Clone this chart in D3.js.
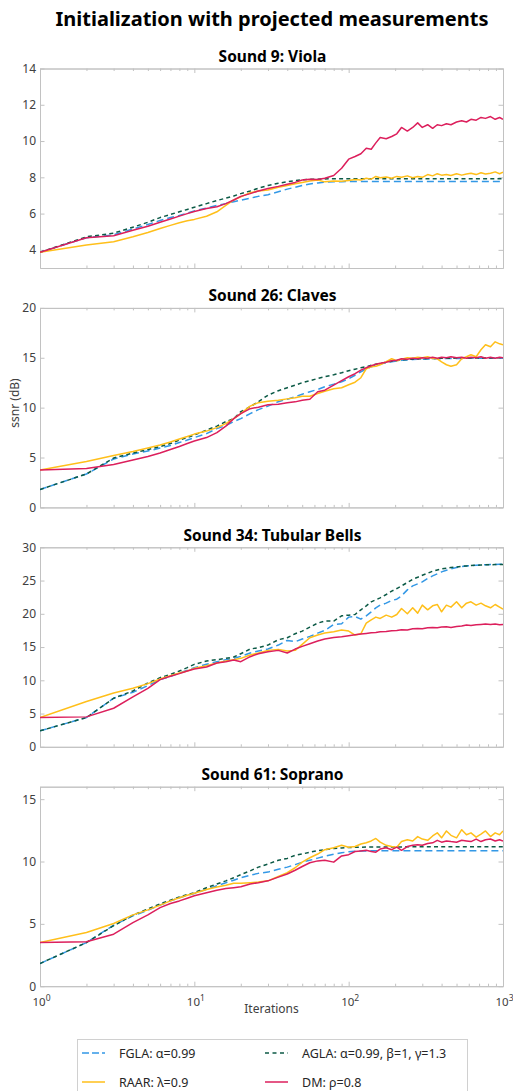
<!DOCTYPE html>
<html><head><meta charset="utf-8">
<script src="https://cdn.jsdelivr.net/npm/d3@7"></script>
<style>
body{margin:0;background:#fff;}
text{font-family:"Noto Sans","Open Sans",sans-serif;}
</style></head>
<body>
<script>
// ---------- DATA ----------
const iterations = [1,2,3,4,5,6,7,8,9,10,12,14,16,18,20,23,26,30,35,40,45,50,56,63,70,80,90,100,110,120,130,140,150,160,175,190,205,220,240,260,280,300,325,350,375,400,430,460,500,540,580,620,670,720,770,830,890,950,1000];

const seriesNames = ["FGLA: \u03b1=0.99","AGLA: \u03b1=0.99, \u03b2=1, \u03b3=1.3","RAAR: \u03bb=0.9","DM: \u03c1=0.8"];
const panelTitles = ["Sound 9: Viola","Sound 26: Claves","Sound 34: Tubular Bells","Sound 61: Soprano"];
const yLimits = [[3,14],[0,20],[0,30],[0,16]];
const yTicks = [[4,6,8,10,12,14],[0,5,10,15,20],[0,5,10,15,20,25,30],[0,5,10,15]];
const xTicks = [1,10,100,1000];
const xTickExponents = ["0","1","2","3"];
const xLabel = "Iterations";
const yLabel = "ssnr (dB)";
const mainTitle = "Initialization with projected measurements";

// Viola
const violaFGLA = [3.87,4.67,4.83,5.15,5.4,5.62,5.78,5.9,6.03,6.15,
 6.3,6.45,6.55,6.65,6.74,6.85,6.95,7.04,7.2,7.35,
 7.45,7.55,7.63,7.69,7.73,7.75,7.76,7.77,7.77,7.77,
 7.77,7.77,7.77,7.77,7.77,7.77,7.77,7.77,7.77,7.77,
 7.77,7.77,7.77,7.77,7.77,7.77,7.77,7.77,7.77,7.77,
 7.77,7.77,7.77,7.77,7.77,7.77,7.77,7.77,7.77];
const violaAGLA = [3.87,4.72,4.92,5.25,5.52,5.78,5.95,6.1,6.23,6.35,
 6.55,6.72,6.85,6.97,7.1,7.25,7.4,7.55,7.67,7.76,
 7.82,7.86,7.89,7.9,7.91,7.92,7.92,7.92,7.92,7.92,
 7.92,7.92,7.92,7.92,7.92,7.92,7.92,7.92,7.92,7.92,
 7.92,7.92,7.92,7.92,7.92,7.92,7.92,7.92,7.92,7.92,
 7.92,7.92,7.92,7.92,7.92,7.92,7.92,7.92,7.92];
const violaRAAR = [3.87,4.27,4.45,4.72,4.96,5.18,5.35,5.5,5.6,5.68,
 5.85,6.1,6.45,6.75,6.92,7.15,7.25,7.3,7.45,7.55,
 7.65,7.72,7.8,7.85,7.75,7.8,7.78,7.82,7.88,7.85,
 7.95,7.9,8.05,7.98,8.02,7.95,8.05,8.0,8.08,7.98,
 8.05,8.0,8.15,8.08,8.2,8.12,8.15,8.1,8.2,8.12,
 8.18,8.22,8.15,8.25,8.18,8.22,8.3,8.2,8.28];
const violaDM = [3.87,4.67,4.78,5.08,5.3,5.52,5.7,5.86,6.0,6.12,
 6.28,6.38,6.55,6.75,6.95,7.1,7.25,7.38,7.5,7.62,
 7.72,7.85,7.9,7.88,7.95,8.1,8.5,9.0,9.15,9.3,
 9.6,9.55,9.9,10.19,10.13,10.25,10.4,10.75,10.55,10.75,
 11.0,10.75,10.9,10.7,10.9,10.85,10.95,10.9,11.05,11.12,
 11.05,11.2,11.15,11.3,11.25,11.35,11.2,11.3,11.2];

// Claves
const clavesFGLA = [1.8,3.35,4.85,5.35,5.65,5.95,6.2,6.5,6.75,7.0,
 7.4,7.9,8.2,8.6,8.9,9.4,9.8,10.15,10.6,10.85,
 11.1,11.35,11.6,11.82,12.1,12.35,12.6,12.9,13.25,13.6,
 13.86,14.1,14.25,14.38,14.5,14.6,14.68,14.74,14.78,14.82,
 14.84,14.86,14.88,14.89,14.9,14.91,14.92,14.92,14.93,14.93,
 14.94,14.94,14.94,14.95,14.95,14.95,14.95,14.95,14.95];
const clavesAGLA = [1.8,3.35,4.95,5.45,5.8,6.1,6.4,6.75,7.0,7.25,
 7.75,8.15,8.6,8.9,9.6,10.1,10.6,11.25,11.7,12.0,
 12.25,12.5,12.7,12.92,13.1,13.3,13.5,13.7,13.85,14.0,
 14.1,14.25,14.36,14.45,14.55,14.65,14.72,14.78,14.82,14.86,
 14.88,14.9,14.92,14.93,14.94,14.95,14.96,14.96,14.97,14.97,
 14.98,14.98,14.98,14.99,14.99,14.99,15.0,15.0,15.0];
const clavesRAAR = [3.75,4.6,5.2,5.6,5.95,6.25,6.55,6.85,7.1,7.35,
 7.65,8.0,8.4,8.9,9.4,10.15,10.5,10.65,10.75,10.88,
 11.0,11.15,11.15,11.42,11.65,11.9,12.0,12.3,12.55,13.0,
 13.9,14.1,14.15,14.3,14.6,14.9,14.7,14.85,15.0,14.95,
 15.05,15.0,15.1,14.95,14.9,14.6,14.3,14.15,14.3,14.9,
 15.1,15.3,15.1,15.8,16.3,16.1,16.6,16.4,16.3];
const clavesDM = [3.75,3.9,4.3,4.75,5.1,5.45,5.8,6.1,6.4,6.65,
 7.0,7.5,8.15,8.9,9.4,9.9,10.05,10.3,10.35,10.48,
 10.58,10.75,10.85,11.6,11.75,12.25,12.7,13.1,13.4,13.76,
 14.0,14.2,14.35,14.45,14.55,14.7,14.75,14.9,14.85,14.95,
 14.9,15.0,14.95,15.05,14.95,15.05,15.0,15.1,15.0,15.05,
 14.95,15.05,15.0,15.1,14.95,15.05,14.95,15.05,15.0];

// Tubular Bells
const tubularFGLA = [2.4,4.4,7.3,8.2,9.2,10.1,10.6,11.1,11.5,11.9,
 12.4,12.8,13.1,13.3,13.6,14.1,14.4,14.7,15.3,16.0,
 15.8,16.2,16.6,17.1,17.5,18.4,18.5,19.5,19.6,19.2,
 19.7,20.3,20.9,21.3,21.6,22.0,22.2,22.7,23.6,24.2,
 24.5,24.8,25.3,25.7,26.0,26.3,26.55,26.75,26.95,27.1,
 27.2,27.25,27.3,27.35,27.38,27.4,27.42,27.44,27.45];
const tubularAGLA = [2.4,4.4,7.3,8.4,9.6,10.4,10.9,11.4,11.9,12.4,
 12.9,13.1,13.3,13.5,14.0,14.7,14.9,15.3,16.1,16.4,
 17.0,17.4,18.0,18.6,18.9,18.9,19.7,19.8,19.9,20.6,
 21.2,21.8,22.1,22.4,22.9,23.4,23.8,24.2,24.7,25.2,
 25.5,25.8,26.1,26.4,26.6,26.75,26.85,26.95,27.05,27.15,
 27.2,27.25,27.3,27.33,27.36,27.38,27.4,27.42,27.43];
const tubularRAAR = [4.4,6.8,8.1,8.8,9.5,10.2,10.7,11.1,11.4,11.8,
 12.2,12.6,12.9,13.1,13.3,13.8,14.1,14.5,14.65,14.4,
 14.5,15.4,16.4,16.8,17.1,17.3,17.55,17.4,16.8,17.0,
 18.6,19.1,19.5,19.3,19.8,19.5,19.9,20.8,20.0,20.9,
 20.1,21.3,20.6,21.2,21.4,20.3,21.3,21.0,21.8,20.9,
 21.6,21.8,21.3,21.6,21.2,20.9,21.4,21.0,20.7];
const tubularDM = [4.4,4.5,5.8,7.5,8.8,10.1,10.6,11.0,11.4,11.7,
 12.0,12.6,12.8,13.05,12.8,13.55,14.0,14.3,14.5,14.1,
 14.7,15.1,15.5,15.9,16.2,16.45,16.55,16.7,16.85,16.95,
 17.05,17.15,17.2,17.3,17.35,17.45,17.5,17.6,17.55,17.75,
 17.8,17.75,17.9,17.95,17.9,18.0,18.05,17.95,18.1,18.15,
 18.3,18.25,18.35,18.4,18.45,18.4,18.45,18.35,18.4];

// Soprano
const sopranoFGLA = [1.82,3.5,4.89,5.64,6.1,6.5,6.84,7.1,7.28,7.43,
 7.78,8.05,8.29,8.5,8.7,8.9,9.05,9.15,9.38,9.55,
 9.75,9.95,10.1,10.27,10.42,10.59,10.7,10.78,10.82,10.84,
 10.85,10.86,10.86,10.86,10.86,10.86,10.86,10.86,10.86,10.86,
 10.86,10.86,10.86,10.86,10.86,10.86,10.86,10.86,10.86,10.86,
 10.86,10.86,10.86,10.86,10.86,10.86,10.86,10.86,10.86];
const sopranoAGLA = [1.82,3.5,4.85,5.7,6.2,6.6,6.9,7.15,7.35,7.5,
 7.9,8.2,8.45,8.7,8.95,9.25,9.55,9.8,10.1,10.25,
 10.5,10.6,10.75,10.86,10.95,11.04,11.08,11.12,11.14,11.15,
 11.16,11.17,11.17,11.17,11.17,11.17,11.17,11.17,11.18,11.18,
 11.18,11.18,11.18,11.18,11.18,11.18,11.18,11.18,11.18,11.18,
 11.18,11.18,11.18,11.18,11.18,11.18,11.18,11.18,11.18];
const sopranoRAAR = [3.5,4.3,5.03,5.72,6.12,6.5,6.84,7.1,7.3,7.46,
 7.75,7.95,8.1,8.25,8.25,8.3,8.35,8.45,8.8,9.1,
 9.5,9.95,10.3,10.6,10.95,11.1,11.3,11.15,11.2,11.4,
 11.5,11.65,11.85,11.55,11.3,11.2,11.15,11.6,11.75,11.65,
 12.0,11.8,11.7,12.05,12.3,11.9,12.45,12.1,11.9,12.55,
 12.15,12.3,11.95,12.2,12.45,12.0,12.3,12.15,12.45];
const sopranoDM = [3.5,3.56,4.17,5.1,5.72,6.3,6.63,6.84,7.06,7.25,
 7.5,7.7,7.83,7.9,7.97,8.2,8.3,8.45,8.75,9.0,
 9.3,9.6,9.9,10.05,10.1,9.95,10.45,10.55,10.8,10.85,
 10.9,10.8,10.75,11.0,11.1,10.95,11.15,10.9,11.2,11.3,
 11.35,11.3,11.45,11.5,11.7,11.55,11.65,11.6,11.55,11.7,
 11.65,11.6,11.8,11.6,11.75,11.8,11.65,11.75,11.65];

const panelSeries = [
  [violaFGLA, violaAGLA, violaRAAR, violaDM],
  [clavesFGLA, clavesAGLA, clavesRAAR, clavesDM],
  [tubularFGLA, tubularAGLA, tubularRAAR, tubularDM],
  [sopranoFGLA, sopranoAGLA, sopranoRAAR, sopranoDM]
];

// ---------- STYLE ----------
const colors = ["#3398e6","#0c5a46","#ffbf1a","#dc1f5c"];
const dashes = ["7,4","4,3.2",null,null];
const axisColor = "#c2c2c2";
const labelColor = "#404040";

const W = 513, H = 1091;
const left = 40, right = 503;
const panelTop0 = 68.5, panelStep = 239.4, panelH = 199.5;

const svg = d3.select("body").append("svg").attr("width", W).attr("height", H);

svg.append("text").attr("x", 272).attr("y", 26).attr("text-anchor","middle")
  .attr("font-size", 20).attr("font-weight","bold").attr("fill","#000").text(mainTitle);

const x = d3.scaleLog().domain([1,1000]).range([left, right]);
const minorTicks = [];
[1,10,100].forEach(d => { for (let k=2;k<=9;k++) minorTicks.push(d*k); });

panelTitles.forEach((title, i) => {
  const top = panelTop0 + i*panelStep, bottom = top + panelH;
  const y = d3.scaleLinear().domain(yLimits[i]).range([bottom, top]);
  const g = svg.append("g");

  g.append("text").attr("x", (left+right)/2 + 1).attr("y", top-6.5).attr("text-anchor","middle")
    .attr("font-size", 15.5).attr("font-weight","bold").attr("fill","#000").text(title);

  const clipId = "clip"+i;
  g.append("clipPath").attr("id", clipId).append("rect")
    .attr("x", left).attr("y", top).attr("width", right-left).attr("height", panelH);

  const styleAxis = sel => {
    sel.selectAll("path.domain").attr("stroke", axisColor).attr("stroke-width", 1);
    sel.selectAll(".tick line").attr("stroke", axisColor).attr("stroke-width", 1);
    sel.selectAll(".tick text").attr("fill", labelColor).attr("font-size", 12)
      .attr("font-family", '"Noto Sans","Open Sans",sans-serif');
  };
  g.append("g").attr("transform", `translate(${left},0)`)
    .call(d3.axisLeft(y).tickValues(yTicks[i]).tickSizeInner(-4.5).tickSizeOuter(0).tickPadding(4))
    .call(styleAxis);
  g.append("g").attr("transform", `translate(${right},0)`)
    .call(d3.axisRight(y).tickValues(yTicks[i]).tickSizeInner(-4.5).tickSizeOuter(0).tickFormat(""))
    .call(styleAxis);
  g.append("g").attr("transform", `translate(0,${top})`)
    .call(d3.axisTop(x).tickValues(xTicks).tickSizeInner(-4.5).tickSizeOuter(0).tickFormat(""))
    .call(styleAxis);
  g.append("g").attr("transform", `translate(0,${top})`)
    .call(d3.axisTop(x).tickValues(minorTicks).tickSizeInner(-2.5).tickSizeOuter(0).tickFormat(""))
    .call(styleAxis);
  const xb = g.append("g").attr("transform", `translate(0,${bottom})`)
    .call(d3.axisBottom(x).tickValues(xTicks).tickSizeInner(-4.5).tickSizeOuter(0).tickPadding(8)
      .tickFormat(i === 3 ? (d => "10") : ""))
    .call(styleAxis);
  g.append("g").attr("transform", `translate(0,${bottom})`)
    .call(d3.axisBottom(x).tickValues(minorTicks).tickSizeInner(-2.5).tickSizeOuter(0).tickFormat(""))
    .call(styleAxis);
  if (i === 3) {
    xb.selectAll(".tick text").each(function(d, j) {
      const t = d3.select(this);
      t.attr("dy", null).attr("y", 20).attr("text-anchor","middle").attr("x", 1).attr("font-size", 11.5);
      t.append("tspan").attr("dy", -5).attr("font-size", 8.5).text(xTickExponents[j]);
    });
  }

  const line = d3.line().x((d, k) => x(iterations[k])).y(d => y(d));
  const lg = g.append("g").attr("clip-path", `url(#${clipId})`);
  panelSeries[i].forEach((vals, s) => {
    lg.append("path").datum(vals).attr("d", line)
      .attr("fill","none").attr("stroke", colors[s]).attr("stroke-width", 1.5)
      .attr("stroke-dasharray", dashes[s]).attr("stroke-linejoin","round");
  });
});

svg.append("text").attr("transform", "translate(19,403) rotate(-90)").attr("text-anchor","middle")
  .attr("font-size", 12).attr("fill", labelColor).text(yLabel);
svg.append("text").attr("x", 271.5).attr("y", 1013).attr("text-anchor","middle")
  .attr("font-size", 12).attr("fill", labelColor).text(xLabel);

const lgd = svg.append("g");
lgd.append("rect").attr("x", 77.5).attr("y", 1039.5).attr("width", 390).attr("height", 70)
  .attr("fill","#fff").attr("stroke","#d0d0d0");
const legendPos = [[82,1053],[265,1053],[82,1082],[265,1082]];
seriesNames.forEach((name, s) => {
  const [lx, ly] = legendPos[s];
  lgd.append("line").attr("x1", lx).attr("x2", lx+23).attr("y1", ly).attr("y2", ly)
    .attr("stroke", colors[s]).attr("stroke-width", 1.5).attr("stroke-dasharray", s===0 ? "7,3" : (s===1 ? "4,3.5" : null));
  lgd.append("text").attr("x", lx+37).attr("y", ly+4.5).attr("font-size", 12.5).attr("fill","#262626").text(name);
});
</script>
</body></html>
